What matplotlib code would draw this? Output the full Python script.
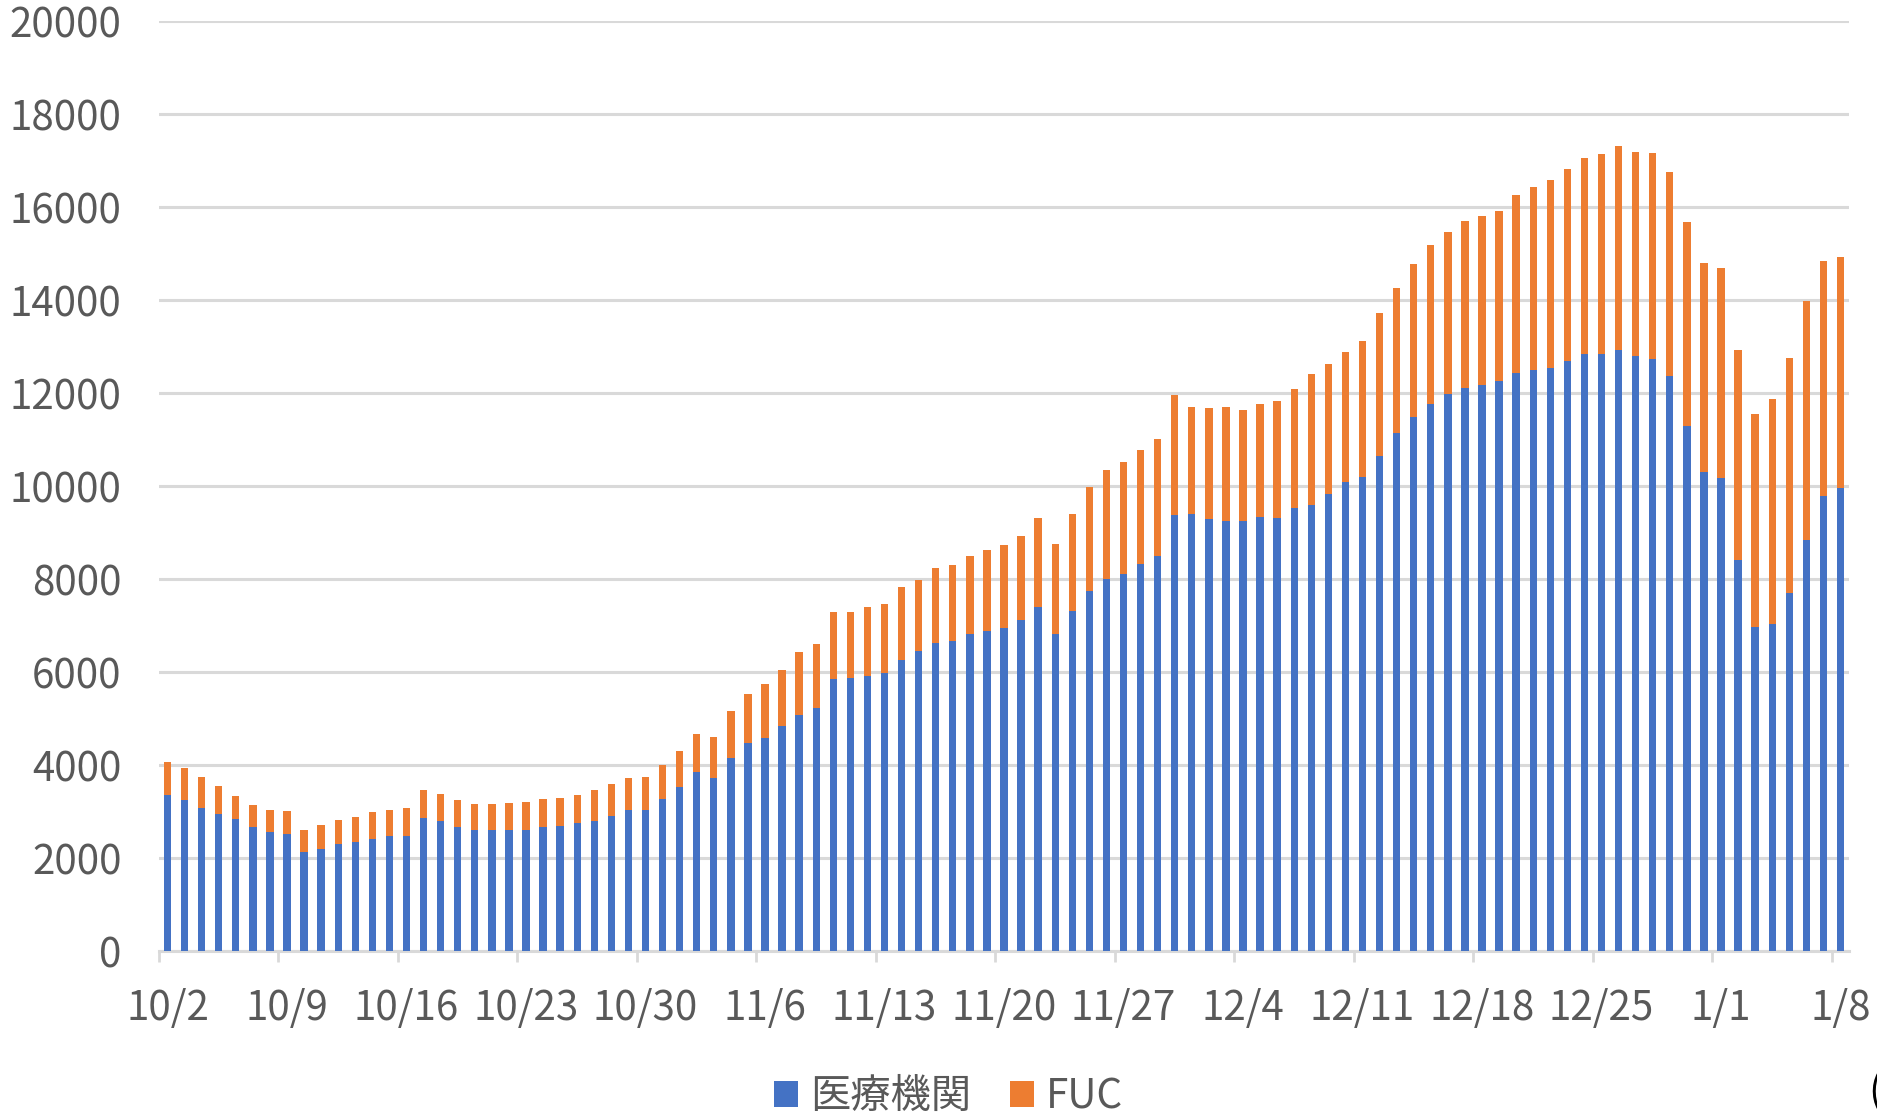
import numpy as np
import matplotlib
matplotlib.use("Agg")
import matplotlib.pyplot as plt

plt.rcParams['font.family'] = ['Noto Sans CJK JP', 'DejaVu Sans']

# daily values, 10/2 .. 1/8
iryo = [3370, 3250, 3090, 2950, 2840, 2680, 2570, 2530, 2140, 2210,
        2310, 2360, 2420, 2490, 2490, 2870, 2810, 2680, 2610, 2610,
        2610, 2620, 2680, 2700, 2760, 2810, 2920, 3040, 3050, 3280,
        3530, 3850, 3720, 4170, 4480, 4600, 4850, 5090, 5230, 5850,
        5870, 5930, 5980, 6270, 6450, 6640, 6680, 6830, 6900, 6960,
        7120, 7400, 6830, 7310, 7750, 8010, 8120, 8340, 8500, 9390,
        9400, 9300, 9260, 9260, 9340, 9310, 9540, 9600, 9840, 10090,
        10210, 10650, 11150, 11500, 11770, 11990, 12120, 12170, 12270, 12440,
        12510, 12540, 12700, 12850, 12850, 12930, 12800, 12740, 12370, 11290,
        10300, 10170, 8420, 6970, 7040, 7710, 8850, 9800, 9970]
fuc = [700, 690, 670, 600, 500, 470, 480, 490, 480, 510,
       510, 540, 570, 560, 590, 600, 570, 580, 570, 570,
       580, 590, 600, 610, 610, 660, 680, 680, 700, 740,
       770, 830, 900, 1000, 1060, 1150, 1200, 1340, 1380, 1450,
       1430, 1470, 1490, 1570, 1540, 1610, 1630, 1670, 1740, 1770,
       1820, 1930, 1930, 2100, 2240, 2350, 2400, 2450, 2510, 2570,
       2310, 2390, 2440, 2380, 2430, 2530, 2550, 2820, 2800, 2790,
       2910, 3080, 3120, 3280, 3410, 3490, 3580, 3640, 3660, 3820,
       3920, 4040, 4120, 4220, 4290, 4400, 4400, 4430, 4390, 4390,
       4500, 4520, 4520, 4580, 4850, 5060, 5140, 5040, 4960]
week_labels = ["10/2", "10/9", "10/16", "10/23", "10/30", "11/6", "11/13",
               "11/20", "11/27", "12/4", "12/11", "12/18", "12/25", "1/1", "1/8"]

blue = "#4472C4"
orange = "#ED7D31"
grey_txt = "#595959"
grid_c = "#D9D9D9"

x = np.arange(len(iryo))

fig = plt.figure(figsize=(18.77, 11.17), dpi=100)
ax = fig.add_axes([0.0847, 0.1482, 0.9004, 0.8327])

ax.bar(x, iryo, width=0.43, color=blue, label="医療機関", zorder=3)
ax.bar(x, fuc, width=0.43, bottom=iryo, color=orange, label="FUC", zorder=3)

ax.set_xlim(-0.5, len(x) - 0.5)
ax.set_ylim(0, 20000)
ax.set_yticks(np.arange(0, 20001, 2000))
ax.yaxis.grid(True, color=grid_c, linewidth=2.2)
ax.set_axisbelow(True)

for s in ["top", "right", "left"]:
    ax.spines[s].set_visible(False)
ax.spines["bottom"].set_color(grid_c)
ax.spines["bottom"].set_linewidth(2.2)

# labels under bar centres, tick marks on category boundaries
pos = x[::7]
ax.set_xticks(pos)
ax.set_xticklabels(week_labels)
ax.set_xticks(pos - 0.5, minor=True)
ax.tick_params(axis="x", which="major", length=0, pad=26, labelsize=29, labelcolor=grey_txt)
ax.tick_params(axis="x", which="minor", length=8, width=2, color=grid_c)
ax.tick_params(axis="y", length=0, pad=27, labelsize=29, labelcolor=grey_txt)

fig.legend(loc="center", bbox_to_anchor=(0.5053, 0.018), ncol=2, frameon=False,
           fontsize=29, labelcolor=grey_txt, handlelength=0.6, handleheight=0.6,
           handletextpad=0.3, columnspacing=0.97)

# partly clipped character at the right edge, as in the source
fig.text(0.9955, 0.022, "(", fontsize=29, color="black", ha="left", va="center")

fig.savefig("out.png", dpi=100)
